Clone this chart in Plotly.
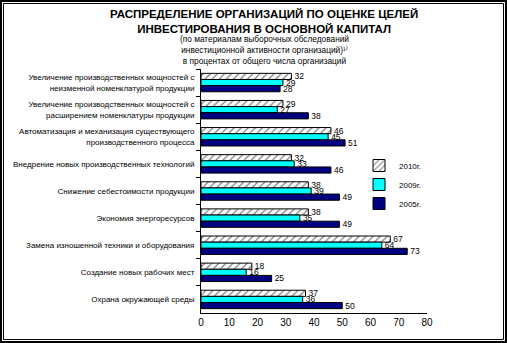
import plotly.graph_objects as go

categories = [
    "Увеличение производственных мощностей с<br>неизменной номенклатурой продукции",
    "Увеличение производственных мощностей с<br>расширением номенклатуры продукции",
    "Автоматизация и механизация существующего<br>производственного процесса",
    "Внедрение новых производственных технологий",
    "Снижение себестоимости продукции",
    "Экономия энергоресурсов",
    "Замена изношенной техники и оборудования",
    "Создание новых рабочих мест",
    "Охрана окружающей среды",
]
v2010 = [32, 29, 46, 32, 38, 38, 67, 18, 37]
v2009 = [29, 27, 45, 33, 39, 35, 64, 16, 36]
v2005 = [28, 38, 51, 46, 49, 49, 73, 25, 50]
series_names = ["2010г.", "2009г.", "2005г."]
x_ticks = [0, 10, 20, 30, 40, 50, 60, 70, 80]

W, H = 507, 343
L, R, T, B = 201, 427, 69, 313

def px(x):
    return (x - L) / (R - L)

def py(y):
    return (B - y) / (B - T)

FONT = "Arial"
fig = go.Figure()
specs = [
    (v2010, "white", dict(shape="/", fgcolor="black", bgcolor="white", size=5, solidity=0.25)),
    (v2009, "#00FFFF", None),
    (v2005, "#000080", None),
]
for (vals, col, pat), name in zip(specs, series_names):
    marker = dict(color=col, line=dict(color="black", width=1))
    if pat:
        marker["pattern"] = pat
    fig.add_trace(go.Bar(
        y=categories, x=vals, orientation="h", name=name, marker=marker,
        text=vals, textposition="outside", cliponaxis=False, constraintext="none",
        textfont=dict(family=FONT, size=8.5, color="black"),
    ))

fig.update_layout(
    width=W, height=H,
    margin=dict(l=L, r=W - R, t=T, b=H - B, pad=0),
    paper_bgcolor="white", plot_bgcolor="white",
    barmode="group", bargap=0.32, bargroupgap=0,
    showlegend=True,
    legend=dict(x=px(359), y=py(151), xanchor="left", yanchor="top",
                font=dict(family=FONT, size=8, color="black"),
                bgcolor="rgba(0,0,0,0)", itemwidth=30, tracegroupgap=0),
    xaxis=dict(range=[0, 80], tickvals=x_ticks, showgrid=False, zeroline=False,
               showline=True, linecolor="black", linewidth=1, ticks="",
               tickfont=dict(family=FONT, size=10, color="black")),
    yaxis=dict(autorange="reversed", showline=True, linecolor="black", linewidth=1,
               ticks="outside", ticklen=4, tickcolor="black", tickson="boundaries",
               showgrid=False, ticklabelstandoff=4,
               tickfont=dict(family=FONT, size=8, color="black")),
    font=dict(family=FONT, color="black"),
)

title_lines = ["РАСПРЕДЕЛЕНИЕ ОРГАНИЗАЦИЙ ПО ОЦЕНКЕ ЦЕЛЕЙ", "ИНВЕСТИРОВАНИЯ В ОСНОВНОЙ КАПИТАЛ"]
sub_lines = ["(по материалам выборочных обследований",
             "инвестиционной активности организаций)¹⁾",
             "в процентах от общего числа организаций"]

fig.add_annotation(text="<b>" + "<br>".join(title_lines) + "</b>", xref="paper", yref="paper",
                   x=px(264), y=py(22), xanchor="center", yanchor="middle",
                   showarrow=False, font=dict(family=FONT, size=11.5, color="black"))
fig.add_annotation(text="<br>".join(sub_lines), xref="paper", yref="paper",
                   x=px(264), y=py(50), xanchor="center", yanchor="middle",
                   showarrow=False, font=dict(family=FONT, size=8.3, color="black"))

# double frame
fig.add_shape(type="rect", xref="paper", yref="paper", x0=px(1), x1=px(506), y0=py(342), y1=py(1),
              line=dict(color="black", width=2), layer="above")
fig.add_shape(type="rect", xref="paper", yref="paper", x0=px(3.5), x1=px(503.5), y0=py(339.5), y1=py(3.5),
              line=dict(color="black", width=1), layer="above")

fig.write_html("out.html")
